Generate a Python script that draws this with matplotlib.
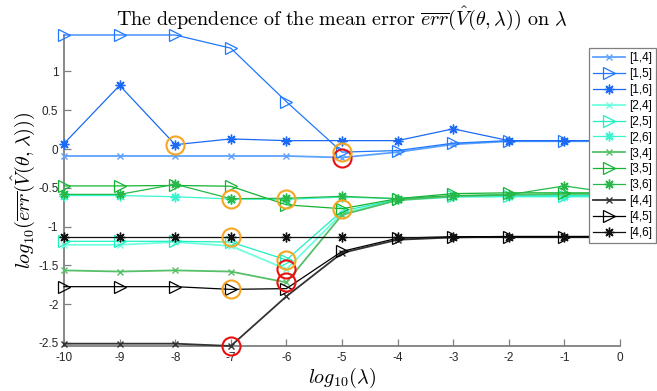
import matplotlib
matplotlib.use("Agg")
import matplotlib.pyplot as plt
import numpy as np

plt.rcParams['font.family'] = ['Liberation Sans', 'DejaVu Sans']
plt.rcParams['mathtext.fontset'] = 'cm'
plt.rcParams['axes.unicode_minus'] = False

lam = [-10, -9, -8, -7, -6, -5, -4, -3, -2, -1, 0]

s14 = [-0.09, -0.09, -0.09, -0.09, -0.09, -0.11, -0.04, 0.06, 0.10, 0.10, 0.10]
s15 = [1.47, 1.47, 1.47, 1.30, 0.61, -0.04, -0.02, 0.075, 0.108, 0.108, 0.108]
s16 = [0.07, 0.82, 0.056, 0.13, 0.108, 0.108, 0.108, 0.26, 0.108, 0.108, 0.108]
s24 = [-1.235, -1.235, -1.20, -1.25, -1.55, -0.83, -0.66, -0.62, -0.615, -0.615, -0.615]
s25 = [-1.19, -1.19, -1.19, -1.20, -1.43, -0.80, -0.65, -0.61, -0.60, -0.60, -0.60]
s26 = [-0.60, -0.60, -0.615, -0.645, -0.65, -0.62, -0.64, -0.61, -0.61, -0.61, -0.61]
s34 = [-1.565, -1.58, -1.565, -1.58, -1.72, -0.85, -0.66, -0.61, -0.59, -0.58, -0.58]
s35 = [-0.476, -0.476, -0.47, -0.48, -0.72, -0.77, -0.64, -0.575, -0.565, -0.565, -0.565]
s36 = [-0.585, -0.585, -0.455, -0.64, -0.635, -0.61, -0.64, -0.60, -0.59, -0.476, -0.58]
s44 = [-2.51, -2.51, -2.51, -2.54, -1.90, -1.34, -1.17, -1.14, -1.13, -1.13, -1.13]
s45 = [-1.775, -1.775, -1.775, -1.81, -1.80, -1.32, -1.15, -1.13, -1.13, -1.13, -1.13]
s46 = [-1.13, -1.13, -1.13, -1.13, -1.13, -1.13, -1.13, -1.13, -1.13, -1.13, -1.13]

labels = ['[1,4]', '[1,5]', '[1,6]', '[2,4]', '[2,5]', '[2,6]',
          '[3,4]', '[3,5]', '[3,6]', '[4,4]', '[4,5]', '[4,6]']
series = [s14, s15, s16, s24, s25, s26, s34, s35, s36, s44, s45, s46]

# lambda of the marked (minimum) point for each series
mark_lam = [-5, -5, -8, -6, -6, -6, -6, -5, -7, -7, -7, -7]

colors = ['#5ea2ff', '#1f78ff', '#1a6af5',
          '#70ffe0', '#1ef0c0', '#38f5cf',
          '#55c068', '#12b432', '#26b848',
          '#333333', '#000000', '#111111']

AST = (8, 2, 0)
markers = ['x', '>', AST] * 4

fig = plt.figure(figsize=(6.57, 3.91), dpi=100)
ax = fig.add_axes([64 / 657, 1 - 346 / 391, 556 / 657, 311 / 391])

for i, (s, lab, c, m) in enumerate(zip(series, labels, colors, markers)):
    kind = i % 3
    if kind == 0:
        lw, ms, mew = 1.3, 5, 1.0
    elif kind == 1:
        lw, ms, mew = 0.9, 8.5, 0.9
    else:
        lw, ms, mew = 0.9, 7, 1.0
    ax.plot(lam, s, color=c, lw=lw, marker=m, ms=ms, mew=mew,
            mfc='none', mec=c, label=lab, clip_on=False, zorder=3)

for i, (s, ml) in enumerate(zip(series, mark_lam)):
    idx = lam.index(ml)
    ccol = '#e81010' if i % 3 == 0 else '#f5a623'
    ax.plot([lam[idx]], [s[idx]], 'o', ms=13, mfc='none', mec=ccol, mew=1.5,
            clip_on=False, zorder=4)

allv = np.concatenate([np.array(s) for s in series])
ax.set_xlim(-10, 0)
ax.set_ylim(allv.min(), allv.max())

ax.set_xticks(lam)
ax.set_yticks([-2.5, -2, -1.5, -1, -0.5, 0, 0.5, 1])
ax.set_yticklabels(['-2.5', '-2', '-1.5', '-1', '-0.5', '0', '0.5', '1'])
ax.set_xticklabels([str(v) for v in lam])

for sp in ['top', 'right']:
    ax.spines[sp].set_visible(False)
for sp in ['left', 'bottom']:
    ax.spines[sp].set_color('#808080')
    ax.spines[sp].set_linewidth(1.3)
ax.tick_params(direction='in', length=5, width=0.9, color='#808080',
               labelsize=8.5, labelcolor='#262626', pad=4)

ax.set_title(r'$\mathrm{The\ dependence\ of\ the\ mean\ error\ }\overline{err}(\hat{V}(\theta,\lambda))\mathrm{\ on\ }\lambda$',
             fontsize=14.5, pad=7)
ax.set_xlabel(r'$log_{10}(\lambda)$', fontsize=14.5, labelpad=2)
ax.set_ylabel(r'$log_{10}(\overline{err}(\hat{V}(\theta,\lambda)))$', fontsize=14.5, labelpad=1)

leg = fig.legend(loc='upper right', bbox_to_anchor=(656 / 657, 1 - 48 / 391),
                 fontsize=8.5, frameon=True, fancybox=False, framealpha=1,
                 edgecolor='#808080', handlelength=2.7, handletextpad=0.3,
                 labelspacing=0.33, borderpad=0.35, borderaxespad=0)
leg.get_frame().set_linewidth(0.9)

fig.savefig('out.png', dpi=100)
